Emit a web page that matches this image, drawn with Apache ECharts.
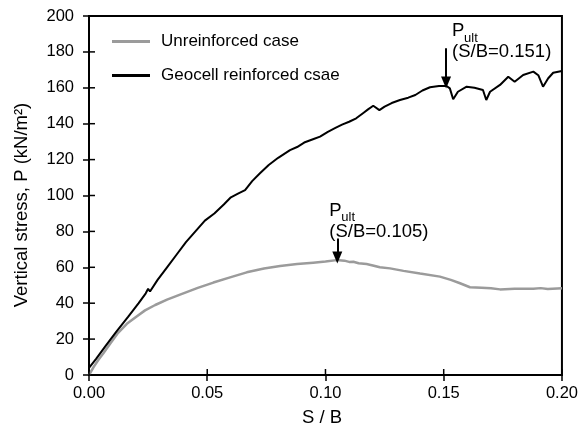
<!DOCTYPE html>
<html>
<head>
<meta charset="utf-8">
<script src="https://cdn.jsdelivr.net/npm/echarts@6/dist/echarts.min.js"></script>
<style>
  html, body { margin: 0; padding: 0; background: #fff; }
  #chart { width: 581px; height: 431px; }
</style>
</head>
<body>
<div id="chart"></div>
<script>
// Settlement ratio S/B and vertical stress P (kN/m²) for each footing test
const unreinforcedSB = [0, 0.002, 0.004, 0.006, 0.009, 0.012, 0.016, 0.020, 0.0237, 0.028, 0.033, 0.0385, 0.046, 0.0526, 0.060, 0.0667, 0.074, 0.0808, 0.088, 0.0948, 0.100, 0.1047, 0.108, 0.110, 0.1118, 0.114, 0.1174, 0.120, 0.123, 0.1273, 0.133, 0.140, 0.1484, 0.153, 0.1569, 0.1611, 0.166, 0.170, 0.1738, 0.180, 0.1879, 0.191, 0.194, 0.2];
const unreinforcedP = [0, 4.5, 8.5, 12, 17.5, 23, 28.5, 32.5, 36, 39, 42, 44.8, 48.5, 51.5, 54.5, 57.2, 59.3, 60.7, 61.8, 62.6, 63.2, 64, 63.7, 63, 63.1, 62.3, 61.8, 61, 60, 59.4, 58, 56.5, 54.8, 53, 51.1, 48.9, 48.6, 48.3, 47.7, 48.1, 48.1, 48.4, 47.9, 48.3];

const geocellSB = [0, 0.003, 0.0068, 0.0115, 0.0166, 0.021, 0.024, 0.025, 0.0258, 0.029, 0.033, 0.037, 0.041, 0.045, 0.049, 0.053, 0.057, 0.060, 0.063, 0.066, 0.069, 0.0723, 0.076, 0.080, 0.085, 0.088, 0.091, 0.095, 0.0977, 0.101, 0.104, 0.107, 0.110, 0.113, 0.116, 0.118, 0.1202, 0.1228, 0.125, 0.128, 0.1315, 0.135, 0.138, 0.141, 0.1442, 0.148, 0.1512, 0.1526, 0.154, 0.156, 0.1597, 0.163, 0.1666, 0.168, 0.1696, 0.1738, 0.1773, 0.180, 0.1836, 0.1879, 0.190, 0.192, 0.1942, 0.1963, 0.2];
const geocellP = [4, 9, 15.8, 24, 32.5, 40, 45.5, 48, 46.5, 53, 60, 67, 74, 80, 86, 90, 95, 99, 101, 103, 108, 112.4, 117, 121, 125.3, 127, 129.5, 131.5, 132.8, 135.5, 137.5, 139.5, 141.1, 143, 146, 148, 150, 147.6, 149.5, 151.5, 153.2, 154.5, 156, 158.5, 160.3, 161, 161, 159.7, 153.6, 157.8, 160.6, 160, 158.8, 153.2, 157.8, 161.6, 166.2, 163.4, 167.1, 169, 167, 160.6, 165.3, 168.4, 169.4];

// Axis tick values
const xTickValues = [0, 0.05, 0.10, 0.15, 0.20];
const yTickValues = [0, 20, 40, 60, 80, 100, 120, 140, 160, 180, 200];

// Ultimate bearing pressure markers: S/B, arrow top P, arrow tip P, caption
const peakUnreinforced = { sb: 0.105, from: 76, to: 65.5, caption: '(S/B=0.105)' };
const peakGeocell = { sb: 0.151, from: 182, to: 163, caption: '(S/B=0.151)' };

const FONT = 'Liberation Sans, Arial, sans-serif';
const TICK_FS = 16.5;
const LEGEND_FS = 17;
const TITLE_FS = 18.5;
const NOTE_FS = 18.5;
const pairs = (xs, ys) => xs.map((x, i) => [x, ys[i]]);

const chart = echarts.init(document.getElementById('chart'), null, { renderer: 'canvas' });

function arrowLine(p) {
  return {
    silent: true,
    symbol: ['none', 'triangle'],
    symbolSize: [10, 12],
    lineStyle: { color: '#000', width: 2, type: 'solid' },
    label: { show: false },
    emphasis: { disabled: true },
    data: [[{ coord: [p.sb, p.from] }, { coord: [p.sb, p.to] }]]
  };
}

const outerTick = { show: true, inside: false, length: 6, lineStyle: { color: '#000', width: 1.5 } };

chart.setOption({
  animation: false,
  backgroundColor: '#fff',
  textStyle: { fontFamily: FONT },
  grid: { left: 89, right: 19, top: 16, bottom: 56, show: true, borderColor: '#000', borderWidth: 2, backgroundColor: 'transparent' },
  legend: {
    orient: 'vertical', left: 107, top: 28,
    itemWidth: 38, itemHeight: 3, itemGap: 17,
    textStyle: { fontFamily: FONT, fontSize: LEGEND_FS, color: '#000', padding: [0, 0, 0, 6] },
    data: [
      { name: 'Unreinforced case', icon: 'rect', itemStyle: { color: '#9b9b9b' } },
      { name: 'Geocell reinforced csae', icon: 'rect', itemStyle: { color: '#000000' } }
    ]
  },
  xAxis: {
    type: 'value', min: 0, max: 0.2, interval: 0.05,
    axisLine: { lineStyle: { color: '#000', width: 2 } },
    splitLine: { show: false },
    axisTick: outerTick,
    axisLabel: { fontFamily: FONT, fontSize: TICK_FS, color: '#000', margin: 10, formatter: v => v.toFixed(2) }
  },
  yAxis: {
    type: 'value', min: 0, max: 200, interval: 20,
    axisLine: { lineStyle: { color: '#000', width: 2 } },
    splitLine: { show: false },
    axisTick: outerTick,
    axisLabel: { fontFamily: FONT, fontSize: TICK_FS, color: '#000', margin: 15 }
  },
  series: [
    {
      name: 'Unreinforced case', type: 'line', symbol: 'none',
      data: pairs(unreinforcedSB, unreinforcedP),
      lineStyle: { color: '#9b9b9b', width: 2.5 }, itemStyle: { color: '#9b9b9b' },
      markLine: arrowLine(peakUnreinforced)
    },
    {
      name: 'Geocell reinforced csae', type: 'line', symbol: 'none',
      data: pairs(geocellSB, geocellP),
      lineStyle: { color: '#000000', width: 2 }, itemStyle: { color: '#000000' },
      markLine: arrowLine(peakGeocell)
    }
  ]
});

const toPx = (x, y) => chart.convertToPixel({ xAxisIndex: 0, yAxisIndex: 0 }, [x, y]);

// Inner half of each tick, so ticks cross the axis line
function innerTicks() {
  const len = 6, w = 1.5;
  const out = [];
  xTickValues.forEach(v => {
    const p = toPx(v, 0);
    out.push({ type: 'rect', z: 100, shape: { x: p[0] - w / 2, y: p[1] - len, width: w, height: len },
      style: { fill: '#000' } });
  });
  yTickValues.forEach(v => {
    const p = toPx(0, v);
    out.push({ type: 'rect', z: 100, shape: { x: p[0], y: p[1] - w / 2, width: len, height: w },
      style: { fill: '#000' } });
  });
  return out;
}

// Captions beside each arrow, placed from the axis scales
function peakLabels(p, dx, dy) {
  const top = toPx(p.sb, p.from);
  const x = top[0] + dx, y = top[1] + dy;
  return [
    { type: 'text', x: x, y: y,
      style: { text: 'P', fontFamily: FONT, fontSize: NOTE_FS, fill: '#000', verticalAlign: 'middle' } },
    { type: 'text', x: x + 12, y: y + 7,
      style: { text: 'ult', fontFamily: FONT, fontSize: 13, fill: '#000', verticalAlign: 'middle' } },
    { type: 'text', x: x, y: y + 21,
      style: { text: p.caption, fontFamily: FONT, fontSize: NOTE_FS, fill: '#000', verticalAlign: 'middle' } }
  ];
}

// Axis titles
const titles = [
  { type: 'text', x: 322, y: 418,
    style: { text: 'S / B', fontFamily: FONT, fontSize: TITLE_FS, fill: '#000', align: 'center', verticalAlign: 'middle' } },
  { type: 'text', x: 22, y: 205, rotation: Math.PI / 2,
    style: { text: 'Vertical stress, P (kN/m²)', fontFamily: FONT, fontSize: TITLE_FS, fill: '#000', align: 'center', verticalAlign: 'middle' } }
];

chart.setOption({
  graphic: titles
    .concat(innerTicks())
    .concat(peakLabels(peakGeocell, 6, -17))
    .concat(peakLabels(peakUnreinforced, -8, -28))
});
</script>
</body>
</html>
